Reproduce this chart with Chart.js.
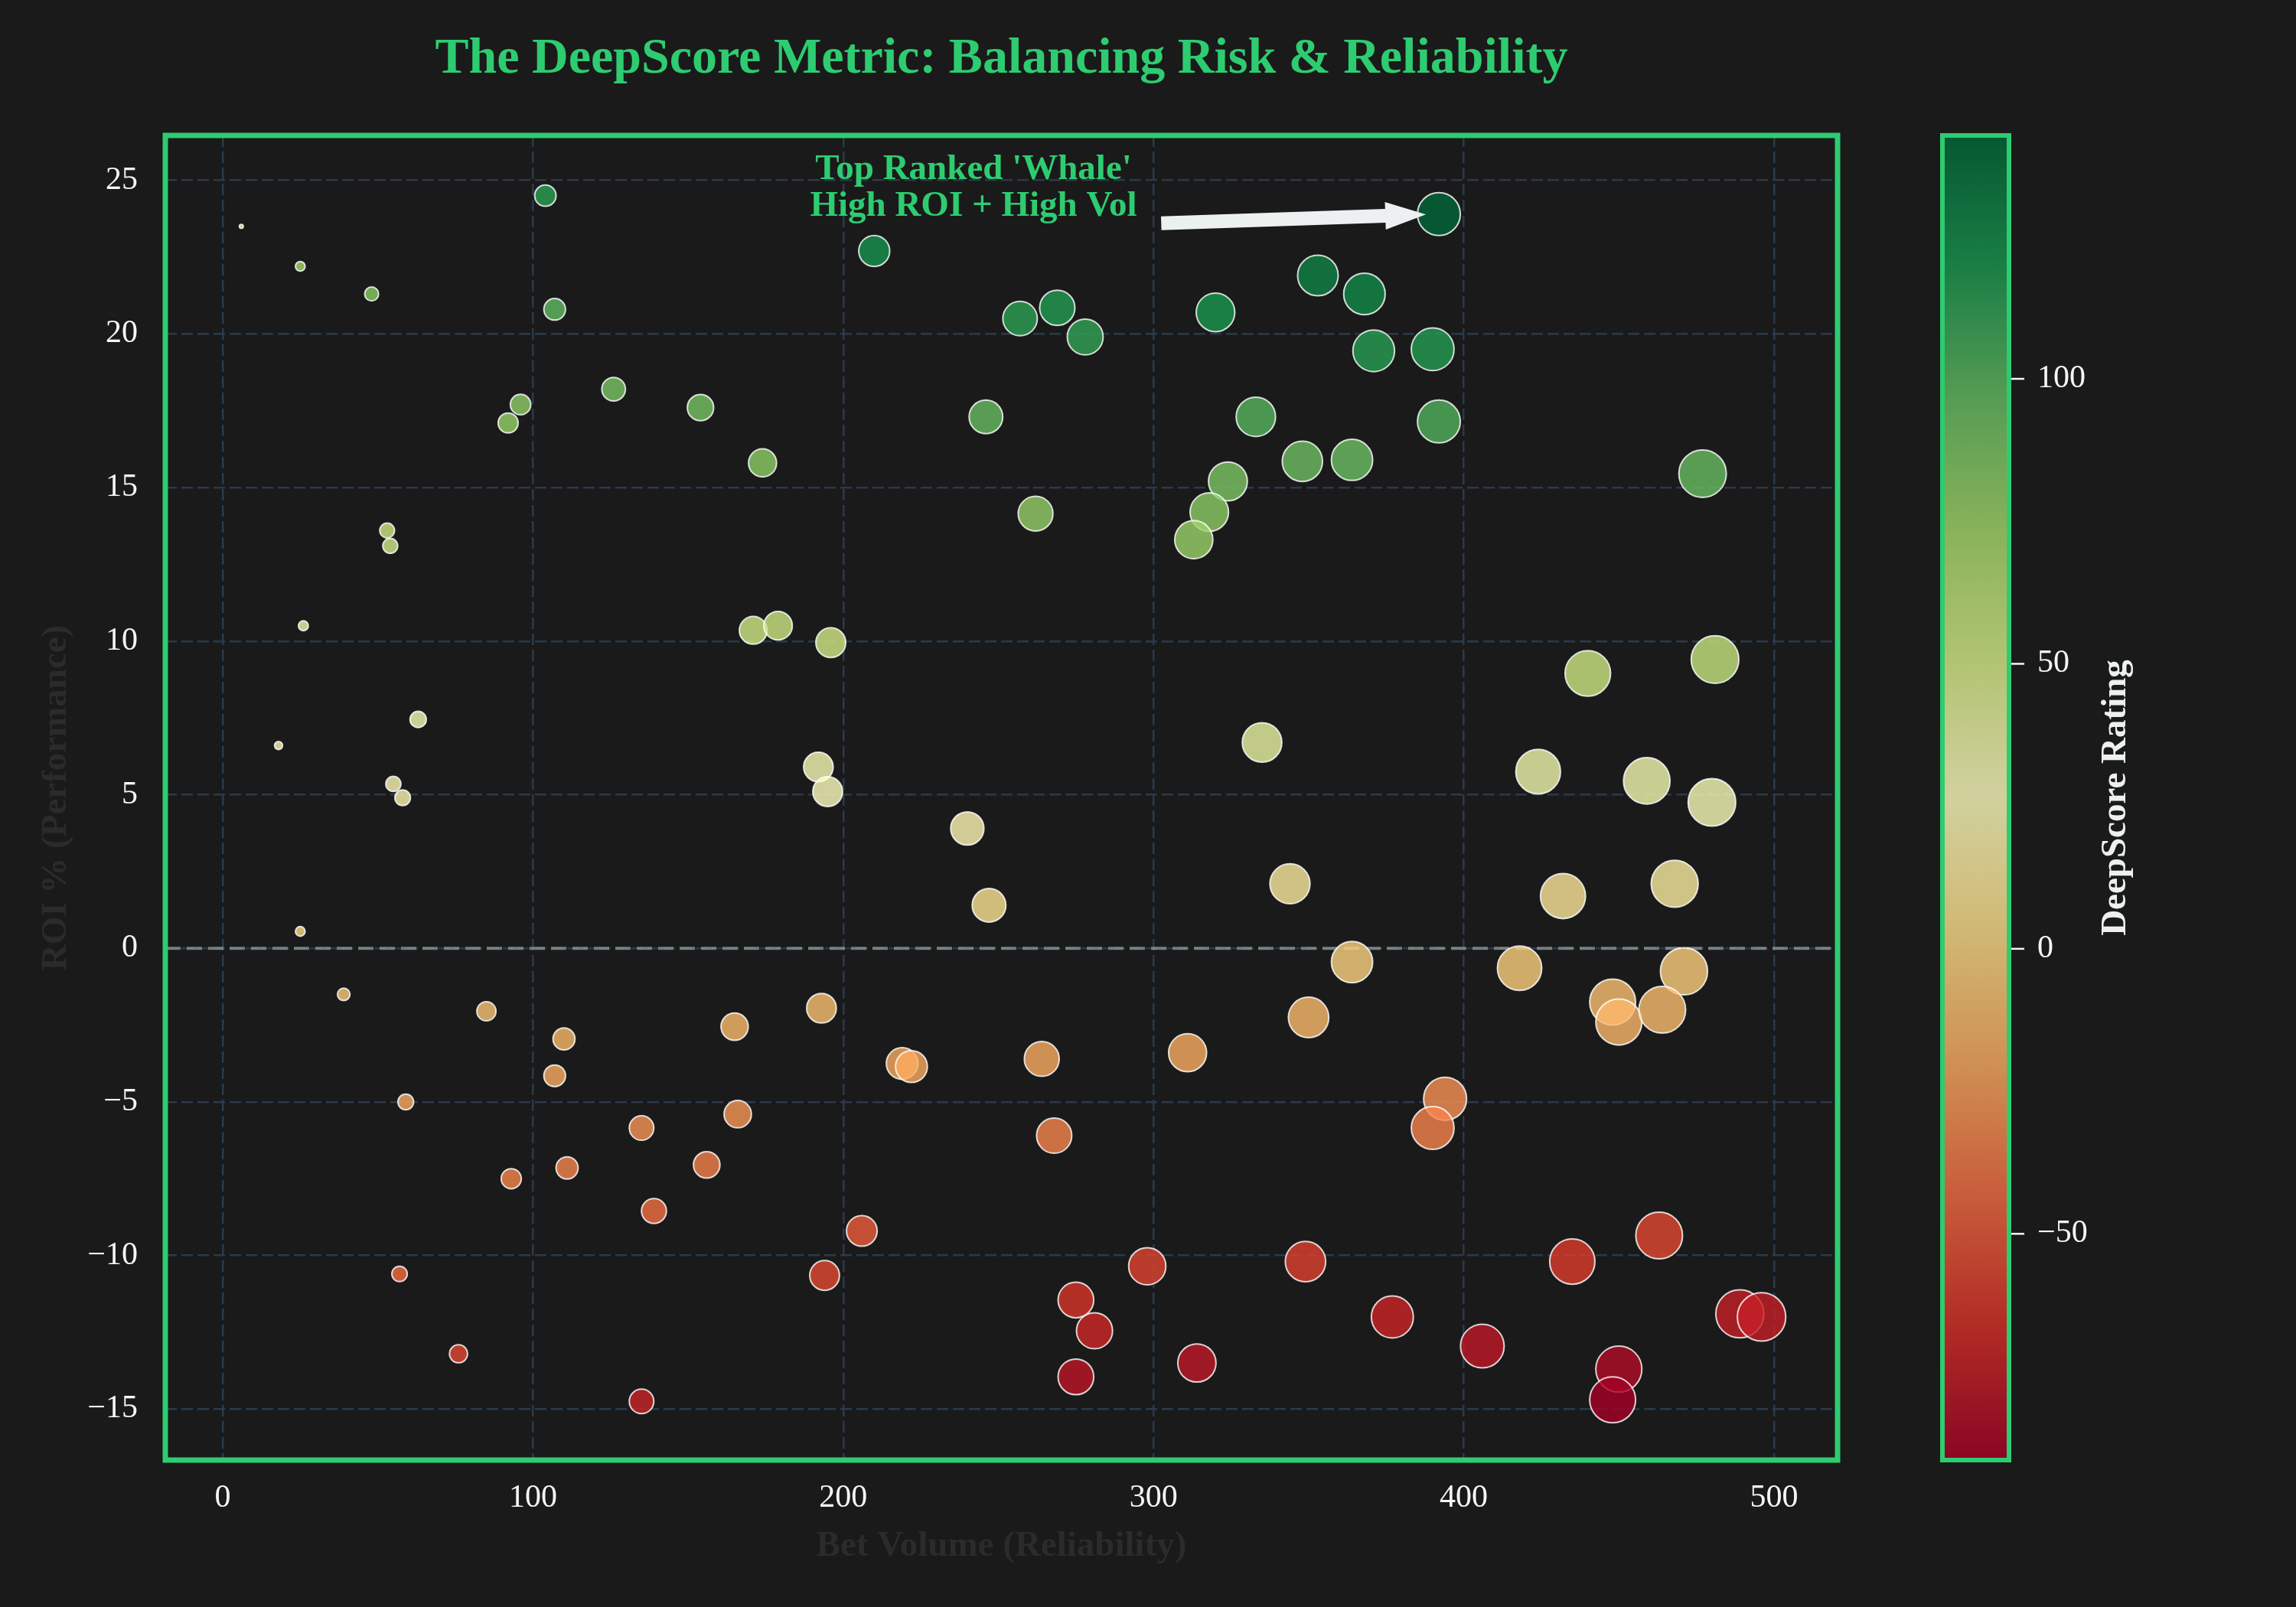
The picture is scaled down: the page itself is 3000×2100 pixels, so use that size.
<!DOCTYPE html>
<html>
<head>
  <meta charset="UTF-8">
  <title>DeepScore Metric</title>
  <script src="https://cdn.jsdelivr.net/npm/chart.js"></script>
  <style>
    html, body { margin: 0; padding: 0; background: #1a1a1a; }
    canvas { display: block; }
  </style>
</head>
<body>
  <canvas id="chart" width="3000" height="2100"></canvas>

  <script>
    // bet volume (x), ROI % (y), DeepScore rating (colour)
    const volume = [6, 25, 48, 104, 107, 126, 96, 92, 154, 210, 246, 174, 53, 54, 26, 171, 179, 196, 63, 18, 55, 58, 192, 195,
      392, 257, 269, 278, 320, 353, 368, 371, 390, 333, 392, 348, 364, 262, 324, 318, 313, 477, 440, 481, 335, 424, 459, 480,
      25, 240, 247, 39, 85, 110, 107, 165, 193, 219, 222, 59, 135, 166, 93, 111, 156, 139, 206, 194, 57, 76, 135,
      344, 432, 468, 364, 418, 471, 448, 450, 464, 350, 264, 311, 394, 390, 268, 463, 298, 349, 435, 275, 281, 275, 314, 377, 406, 450, 448, 489, 496];
    const roi = [23.5, 22.2, 21.3, 24.5, 20.8, 18.2, 17.7, 17.1, 17.6, 22.7, 17.3, 15.8, 13.6, 13.1, 10.5, 10.35, 10.5, 9.95, 7.45, 6.6, 5.35, 4.9, 5.9, 5.1,
      23.9, 20.5, 20.85, 19.9, 20.7, 21.9, 21.3, 19.45, 19.5, 17.3, 17.15, 15.85, 15.9, 14.15, 15.2, 14.2, 13.3, 15.45, 8.95, 9.4, 6.7, 5.75, 5.45, 4.75,
      0.55, 3.9, 1.4, -1.5, -2.05, -2.95, -4.15, -2.55, -1.95, -3.75, -3.85, -5.0, -5.85, -5.4, -7.5, -7.15, -7.05, -8.55, -9.2, -10.65, -10.6, -13.2, -14.75,
      2.1, 1.7, 2.1, -0.45, -0.65, -0.75, -1.75, -2.4, -2.0, -2.25, -3.6, -3.4, -4.9, -5.85, -6.1, -9.35, -10.35, -10.2, -10.2, -11.45, -12.45, -13.95, -13.5, -12.0, -12.95, -13.7, -14.7, -11.9, -12.0];
    const scores = [42.1, 71.5, 82.4, 113.7, 97.1, 88.1, 80.7, 77.3, 88.7, 121.4, 95.3, 81.5, 54.0, 52.3, 34.2, 53.2, 54.5, 52.5, 30.8, 19.1, 21.5, 19.9, 31.0, 26.9,
      142.7, 113.8, 116.6, 112.0, 119.4, 128.6, 125.9, 115.1, 116.4, 100.5, 102.4, 92.7, 93.8, 78.8, 87.9, 81.8, 76.5, 95.3, 54.5, 58.1, 38.9, 34.8, 33.4, 29.3,
      1.8, 21.4, 7.7, -5.5, -9.1, -13.9, -19.4, -13.0, -10.3, -20.2, -20.8, -20.4, -28.7, -27.6, -34.0, -33.7, -35.6, -42.2, -49.0, -56.1, -42.8, -57.2, -72.4,
      12.3, 10.3, 12.9, -2.7, -3.9, -4.6, -10.7, -14.7, -12.3, -13.2, -20.1, -19.5, -29.3, -34.9, -34.1, -57.4, -59.0, -59.8, -62.0, -64.3, -70.2, -78.4, -77.6, -71.2, -77.8, -83.7, -89.7, -73.7, -74.5];
    const xTicks = [0, 100, 200, 300, 400, 500];
    const yTicks = [-15, -10, -5, 0, 5, 10, 15, 20, 25];
    const cbTicks = [-50, 0, 50, 100];
    const whale = 24;

    const titleText = 'The DeepScore Metric: Balancing Risk & Reliability';
    const noteLines = ["Top Ranked 'Whale'", 'High ROI + High Vol'];

    const green = '#2ecc71';
    const serif = '"Liberation Serif", "Times New Roman", serif';
    const rdylgn = ['#a50026', '#d73027', '#f46d43', '#fdae61', '#fee08b', '#ffffbf',
                    '#d9ef8b', '#a6d96a', '#66bd63', '#1a9850', '#006837'];
    const vmin = Math.min(...scores), vmax = Math.max(...scores);

    function hexRgb(h) {
      return [1, 3, 5].map(i => parseInt(h.slice(i, i + 2), 16));
    }
    function cmapT(t, a) {
      t = Math.min(1, Math.max(0, t)) * (rdylgn.length - 1);
      const i = Math.min(Math.floor(t), rdylgn.length - 2), f = t - i;
      const c0 = hexRgb(rdylgn[i]), c1 = hexRgb(rdylgn[i + 1]);
      const c = c0.map((v, k) => Math.round(v + (c1[k] - v) * f));
      return `rgba(${c[0]},${c[1]},${c[2]},${a})`;
    }
    const cmap = (v, a) => cmapT((v - vmin) / (vmax - vmin), a);
    const fmt = v => (v < 0 ? '\u2212' + Math.abs(v) : '' + v);
    const radius = ctx => 1.465 * Math.sqrt(volume[ctx.dataIndex]) - 1;

    const decor = {
      id: 'decor',
      beforeDraw(chart) {
        const c = chart.ctx;
        c.save();
        c.fillStyle = '#1a1a1a';
        c.fillRect(0, 0, chart.width, chart.height);
        c.restore();
      },
      beforeDatasetsDraw(chart) {
        const c = chart.ctx, a = chart.chartArea, y0 = chart.scales.y.getPixelForValue(0);
        c.save();
        c.strokeStyle = 'rgba(149,165,166,0.7)';
        c.lineWidth = 4;
        c.setLineDash([20, 8]);
        c.beginPath();
        c.moveTo(a.left, y0);
        c.lineTo(a.right, y0);
        c.stroke();
        c.restore();
      },
      afterDraw(chart) {
        const c = chart.ctx, a = chart.chartArea, xs = chart.scales.x, ys = chart.scales.y;
        const cx = (a.left + a.right) / 2, cy = (a.top + a.bottom) / 2;
        c.save();

        // spines
        c.strokeStyle = green;
        c.lineWidth = 7;
        c.strokeRect(a.left, a.top, a.right - a.left, a.bottom - a.top);

        // title
        c.fillStyle = green;
        c.font = 'bold 66px ' + serif;
        c.textAlign = 'center';
        c.textBaseline = 'alphabetic';
        c.fillText(titleText, cx, 95);

        // axis titles
        c.fillStyle = '#2b2b2b';
        c.font = 'bold 47px ' + serif;
        c.fillText('Bet Volume (Reliability)', cx, 2033);
        c.save();
        c.translate(86, cy);
        c.rotate(-Math.PI / 2);
        c.fillText('ROI % (Performance)', 0, 0);
        c.restore();

        // annotation
        const tx = xs.getPixelForValue(242), ty = ys.getPixelForValue(25.04);
        c.fillStyle = green;
        c.font = 'bold 47px ' + serif;
        noteLines.forEach((t, i) => c.fillText(t, tx, ty + i * 48));

        const sx = xs.getPixelForValue(302.5), sy = ys.getPixelForValue(23.6);
        let ex = xs.getPixelForValue(volume[whale]), ey = ys.getPixelForValue(roi[whale]);
        const len = Math.hypot(ex - sx, ey - sy);
        const ux = (ex - sx) / len, uy = (ey - sy) / len, nx = -uy, ny = ux;
        ex -= ux * 17; ey -= uy * 17;
        const hl = 53, hw = 18, sw = 9;
        const bx = ex - ux * hl, by = ey - uy * hl;
        c.fillStyle = '#ecf0f1';
        c.beginPath();
        c.moveTo(sx + nx * sw, sy + ny * sw);
        c.lineTo(bx + nx * sw, by + ny * sw);
        c.lineTo(bx + nx * hw, by + ny * hw);
        c.lineTo(ex, ey);
        c.lineTo(bx - nx * hw, by - ny * hw);
        c.lineTo(bx - nx * sw, by - ny * sw);
        c.lineTo(sx - nx * sw, sy - ny * sw);
        c.closePath();
        c.fill();

        // colorbar
        const cbL = 2538, cbW = 87, cbT = a.top, cbB = a.bottom;
        const g = c.createLinearGradient(0, cbB, 0, cbT);
        for (let i = 0; i <= 40; i++) g.addColorStop(i / 40, cmapT(i / 40, 0.8));
        c.fillStyle = g;
        c.fillRect(cbL, cbT, cbW, cbB - cbT);
        c.strokeStyle = green;
        c.lineWidth = 6;
        c.strokeRect(cbL, cbT, cbW, cbB - cbT);

        c.strokeStyle = '#f5f5f5';
        c.fillStyle = '#f5f5f5';
        c.lineWidth = 2.5;
        c.font = '42px ' + serif;
        c.textAlign = 'left';
        c.textBaseline = 'middle';
        cbTicks.forEach(v => {
          const y = cbB - (v - vmin) / (vmax - vmin) * (cbB - cbT);
          c.beginPath();
          c.moveTo(cbL + cbW + 3, y);
          c.lineTo(cbL + cbW + 20, y);
          c.stroke();
          c.fillText(fmt(v), 2662, y);
        });

        c.fillStyle = '#ecf0f1';
        c.font = 'bold 47px ' + serif;
        c.textAlign = 'center';
        c.textBaseline = 'alphabetic';
        c.translate(2777, cy);
        c.rotate(-Math.PI / 2);
        c.fillText('DeepScore Rating', 0, 0);
        c.restore();
      }
    };

    new Chart(document.getElementById('chart'), {
      type: 'scatter',
      data: {
        datasets: [{
          data: volume.map((v, i) => ({ x: v, y: roi[i] })),
          backgroundColor: scores.map(s => cmap(s, 0.8)),
          borderColor: 'rgba(255,255,255,0.8)',
          borderWidth: 2,
          pointRadius: radius,
          pointHoverRadius: radius
        }]
      },
      options: {
        responsive: false,
        animation: false,
        devicePixelRatio: 1,
        events: [],
        layout: { padding: { top: 177, right: 599, bottom: 0, left: 0 } },
        plugins: { legend: { display: false }, tooltip: { enabled: false } },
        scales: {
          x: {
            type: 'linear',
            min: -18.5,
            max: 520.5,
            afterBuildTicks: s => { s.ticks = xTicks.map(v => ({ value: v })); },
            afterFit: s => { s.height = 192; },
            grid: { color: 'rgba(44,62,80,0.9)', lineWidth: 2.5, drawTicks: false },
            border: { display: false, dash: [15, 6] },
            ticks: { color: '#f5f5f5', font: { family: serif, size: 42 }, padding: 25, callback: fmt }
          },
          y: {
            type: 'linear',
            min: -16.66,
            max: 26.46,
            afterBuildTicks: s => { s.ticks = yTicks.map(v => ({ value: v })); },
            afterFit: s => { s.width = 216; },
            grid: { color: 'rgba(44,62,80,0.9)', lineWidth: 2.5, drawTicks: false },
            border: { display: false, dash: [15, 6] },
            ticks: { color: '#f5f5f5', font: { family: serif, size: 42 }, padding: 36, callback: fmt }
          }
        }
      },
      plugins: [decor]
    });
  </script>
</body>
</html>
